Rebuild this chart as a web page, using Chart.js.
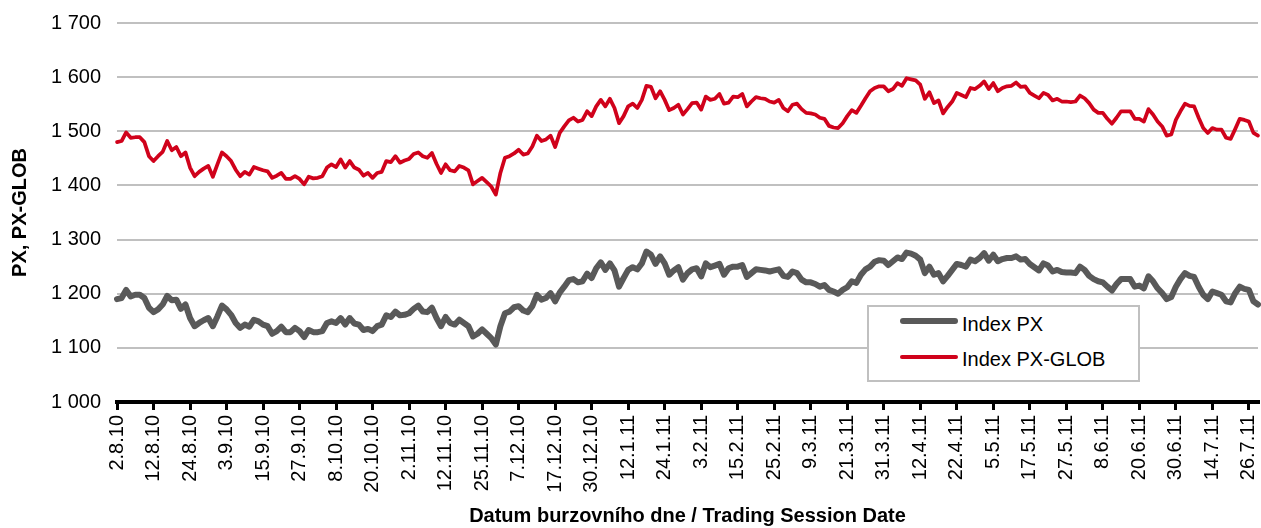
<!DOCTYPE html>
<html>
<head>
<meta charset="utf-8">
<script src="https://cdn.jsdelivr.net/npm/chart.js@4.4.1/dist/chart.umd.min.js"></script>
<style>
    html, body { margin: 0; padding: 0; background: #fff; }
    #wrap { position: relative; width: 1261px; height: 528px; font-family: "Liberation Sans", Arial, sans-serif; }
    #legendBox {
        position: absolute; left: 867px; top: 305px; width: 273px; height: 77px;
        box-sizing: border-box; border: 2px solid #c0c0c0; background: #fff;
    }
    .lg-line { position: absolute; left: 31px; width: 58px; border-radius: 3px; }
    .lg-text { position: absolute; left: 93px; font-size: 20px; line-height: 24px; color: #000; white-space: nowrap; }
</style>
</head>
<body>
<div id="wrap">
    <canvas id="pxChart"></canvas>
    <div id="legendBox">
        <span class="lg-line" style="top:11px;height:6px;background:#595959"></span>
        <span class="lg-text" style="top:5px">Index PX</span>
        <span class="lg-line" style="top:48px;height:4px;background:#d0021b"></span>
        <span class="lg-text" style="top:40px">Index PX-GLOB</span>
    </div>
</div>
<script>
/* =========================
   Index PX / PX-GLOB, 2.8.2010 - 29.7.2011
   denni zaviraci hodnoty (odhad z grafu)
========================= */

// popisky osy X - kazdy 8. obchodni den
var tickLabels = ['2.8.10','12.8.10','24.8.10','3.9.10','15.9.10','27.9.10','8.10.10','20.10.10',
    '2.11.10','12.11.10','25.11.10','7.12.10','17.12.10','30.12.10','12.1.11','24.1.11',
    '3.2.11','15.2.11','25.2.11','9.3.11','21.3.11','31.3.11','12.4.11','22.4.11',
    '5.5.11','17.5.11','27.5.11','8.6.11','20.6.11','30.6.11','14.7.11','26.7.11'];
var tickEvery = 8;

var pxValues = [
    1190, 1192, 1207, 1195, 1198, 1198, 1192, 1174, 1166, 1171,
    1180, 1196, 1188, 1189, 1172, 1180, 1155, 1140, 1146, 1151,
    1155, 1140, 1158, 1178, 1171, 1161, 1146, 1137, 1143, 1139,
    1152, 1149, 1143, 1140, 1126, 1131, 1139, 1129, 1129, 1137,
    1131, 1120, 1133, 1129, 1129, 1131, 1146, 1149, 1146, 1155,
    1143, 1155, 1145, 1143, 1133, 1135, 1131, 1140, 1143, 1160,
    1157, 1167, 1160, 1161, 1164, 1172, 1178, 1167, 1166, 1174,
    1155, 1140, 1157, 1146, 1143, 1152, 1146, 1140, 1121, 1126,
    1134, 1126, 1118, 1106, 1140, 1164, 1167, 1175, 1177, 1169,
    1166, 1177, 1198, 1189, 1192, 1201, 1186, 1202, 1213, 1225,
    1227, 1221, 1223, 1237, 1229, 1247, 1258, 1244, 1256, 1243,
    1213, 1229, 1244, 1249, 1245, 1256, 1278, 1272, 1255, 1269,
    1256, 1235, 1243, 1249, 1226, 1238, 1245, 1247, 1232, 1256,
    1249, 1252, 1255, 1235, 1247, 1250, 1250, 1253, 1231, 1238,
    1245, 1244, 1243, 1241, 1243, 1245, 1233, 1231, 1241, 1238,
    1226, 1221, 1221, 1218, 1213, 1216, 1207, 1204, 1200, 1207,
    1212, 1223, 1220, 1235, 1245, 1250, 1259, 1262, 1261, 1253,
    1260, 1267, 1264, 1276, 1274, 1270, 1263, 1238, 1250, 1235,
    1238, 1223, 1233, 1244, 1255, 1253, 1250, 1263, 1260, 1266,
    1275, 1261, 1272, 1260, 1264, 1266, 1266, 1269, 1263, 1264,
    1255, 1249, 1243, 1256, 1252, 1241, 1244, 1240, 1239, 1239,
    1238, 1250, 1244, 1233, 1227, 1223, 1221, 1213, 1206, 1218,
    1227, 1227, 1227, 1213, 1215, 1210, 1232, 1223, 1210, 1201,
    1190, 1194, 1213, 1227, 1238, 1233, 1231, 1213, 1198, 1190,
    1204, 1201, 1198, 1186, 1184, 1201, 1213, 1209, 1207, 1186, 1180
];

var pxGlobValues = [
    1480, 1482, 1498, 1488, 1489, 1489, 1480, 1454, 1445, 1454,
    1462, 1482, 1465, 1471, 1454, 1461, 1433, 1417, 1425, 1431,
    1436, 1416, 1439, 1461, 1454, 1445, 1429, 1417, 1425, 1420,
    1434, 1431, 1428, 1426, 1414, 1418, 1423, 1412, 1412, 1417,
    1412, 1402, 1416, 1413, 1414, 1417, 1433, 1439, 1434, 1448,
    1433, 1445, 1433, 1429, 1418, 1423, 1414, 1423, 1425, 1445,
    1443, 1454, 1442, 1446, 1449, 1458, 1461, 1454, 1451, 1460,
    1440, 1423, 1439, 1428, 1426, 1436, 1433, 1428, 1402, 1408,
    1414, 1406, 1398, 1383, 1423, 1451, 1454, 1459, 1466, 1457,
    1459, 1472, 1492, 1482, 1485, 1492, 1471, 1497, 1509, 1520,
    1525, 1518, 1521, 1537, 1528, 1546, 1558, 1546, 1560, 1543,
    1515, 1528, 1546, 1551, 1543, 1558, 1584, 1582, 1561, 1574,
    1558, 1539, 1543, 1549, 1531, 1541, 1552, 1553, 1540, 1564,
    1558, 1560, 1569, 1551, 1553, 1564, 1563, 1569, 1546, 1555,
    1563, 1561, 1560, 1555, 1553, 1558, 1543, 1537, 1549, 1551,
    1541, 1534, 1533, 1531, 1525, 1523, 1510, 1507, 1506, 1515,
    1528, 1539, 1534, 1547, 1561, 1574, 1580, 1583, 1583, 1574,
    1578, 1589, 1584, 1598, 1596, 1594, 1586, 1560, 1572, 1552,
    1557, 1533, 1545, 1555, 1571, 1567, 1563, 1580, 1578, 1584,
    1592, 1578, 1589, 1574, 1580, 1583, 1584, 1590, 1582, 1583,
    1571, 1566, 1561, 1571, 1567, 1557, 1560, 1555, 1555, 1554,
    1555, 1566, 1561, 1552, 1540, 1534, 1534, 1523, 1514, 1525,
    1537, 1537, 1537, 1523, 1523, 1518, 1541, 1531, 1518, 1509,
    1492, 1494, 1521, 1537, 1551, 1547, 1546, 1525, 1506, 1497,
    1506, 1503, 1503, 1488, 1486, 1504, 1523, 1521, 1518, 1497, 1492
];

var yMin = 1000, yMax = 1700, yStep = 100;

// Helper: 1700 -> "1 700"
function fmtThousands(v) {
    return String(v).replace(/\B(?=(\d{3})+(?!\d))/g, ' ');
}

document.addEventListener('DOMContentLoaded', function () {

    var canvas = document.getElementById('pxChart');
    canvas.width = 1261;
    canvas.height = 528;

    // kategorie = poradi obchodniho dne
    var days = pxValues.map(function (v, i) { return i; });

    Chart.defaults.font.family = '"Liberation Sans", Arial, sans-serif';
    Chart.defaults.color = '#000';

    new Chart(canvas, {
        type: 'line',
        data: {
            labels: days,
            datasets: [
                {
                    label: 'Index PX',
                    data: pxValues,
                    borderColor: '#595959',
                    borderWidth: 6,
                    borderJoinStyle: 'round',
                    borderCapStyle: 'round',
                    pointRadius: 0,
                    tension: 0,
                    fill: false
                },
                {
                    label: 'Index PX-GLOB',
                    data: pxGlobValues,
                    borderColor: '#d0021b',
                    borderWidth: 3.75,
                    borderJoinStyle: 'round',
                    borderCapStyle: 'round',
                    pointRadius: 0,
                    tension: 0,
                    fill: false
                }
            ]
        },
        options: {
            responsive: false,
            animation: false,
            layout: { padding: { top: 23, right: 3, bottom: 0, left: 0 } },
            plugins: {
                legend: { display: false },
                tooltip: { enabled: false }
            },
            scales: {
                x: {
                    type: 'category',
                    offset: false,
                    afterFit: function (scale) {
                        scale.height = 126;
                        // rotated labels should not shrink the plot on the sides
                        scale.paddingLeft = 0;
                        scale.paddingRight = 0;
                    },
                    afterBuildTicks: function (scale) {
                        scale.ticks = scale.ticks.filter(function (t) { return t.value % tickEvery === 0; });
                    },
                    grid: {
                        drawOnChartArea: false,
                        drawTicks: true,
                        tickLength: 8,
                        color: '#000',
                        lineWidth: 3
                    },
                    border: { display: true, color: '#000', width: 4 },
                    ticks: {
                        autoSkip: false,
                        minRotation: 90,
                        maxRotation: 90,
                        padding: 5,
                        font: { size: 20 },
                        color: '#000',
                        callback: function (v) { return tickLabels[v / tickEvery]; }
                    },
                    title: {
                        display: true,
                        text: 'Datum burzovního dne / Trading Session Date',
                        font: { size: 20, weight: 'bold' },
                        color: '#000',
                        padding: { top: 0, bottom: 0 }
                    }
                },
                y: {
                    min: yMin,
                    max: yMax,
                    afterFit: function (scale) {
                        scale.width = 117;
                        scale.paddingTop = 0;
                        scale.paddingBottom = 0;
                    },
                    grid: {
                        drawTicks: false,
                        lineWidth: 2,
                        color: function (ctx) {
                            return ctx.tick && ctx.tick.value === yMin ? 'rgba(0,0,0,0)' : '#c0c0c0';
                        }
                    },
                    border: { display: false },
                    ticks: {
                        stepSize: yStep,
                        padding: 16,
                        font: { size: 20 },
                        color: '#000',
                        callback: function (v) { return fmtThousands(v); }
                    },
                    title: {
                        display: true,
                        text: 'PX, PX-GLOB',
                        font: { size: 20, weight: 'bold' },
                        color: '#000',
                        padding: { top: 8, bottom: 0 }
                    }
                }
            }
        }
    });
});
</script>
</body>
</html>
